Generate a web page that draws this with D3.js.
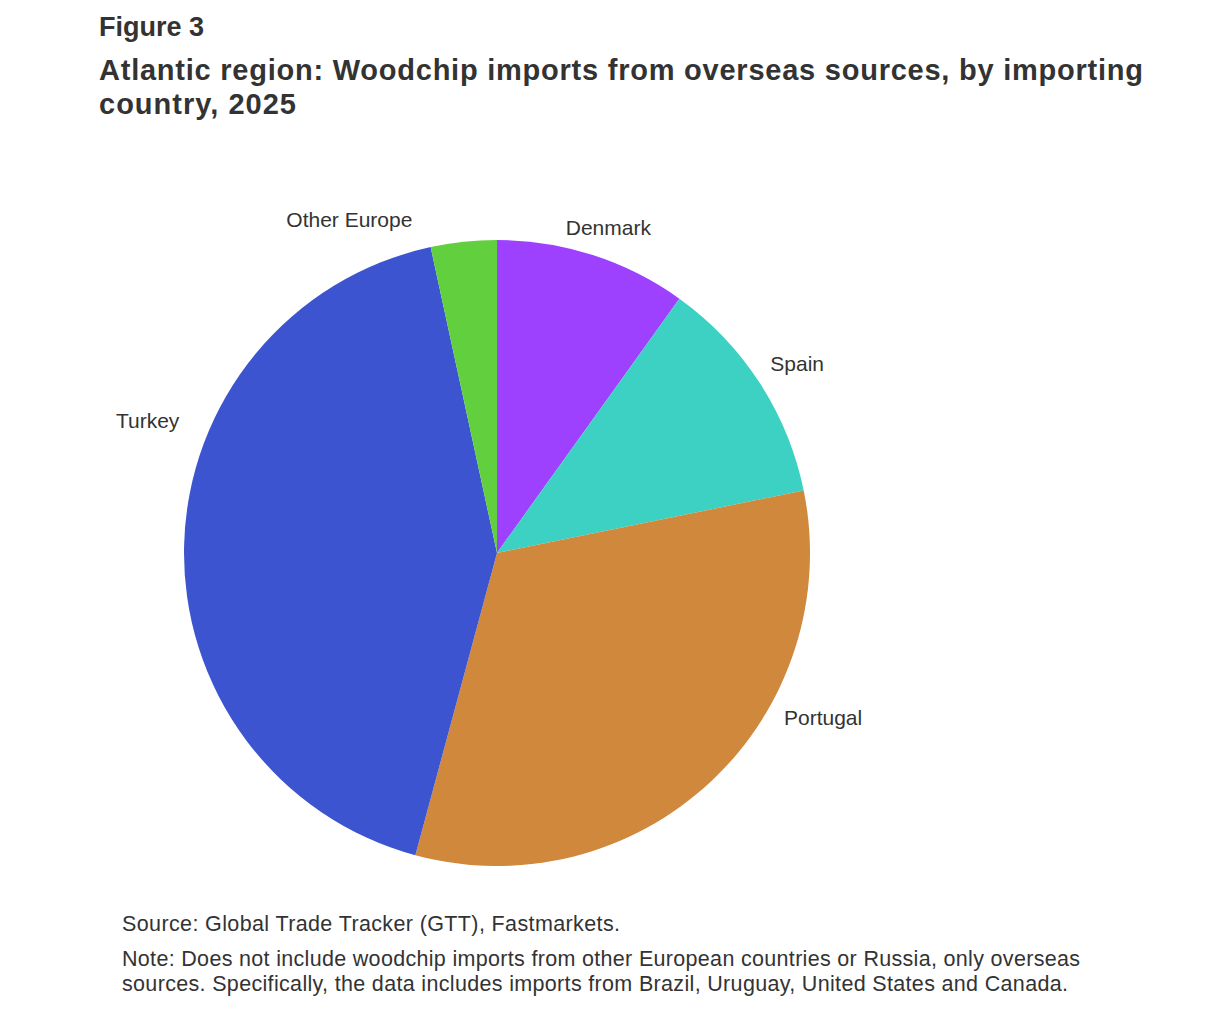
<!DOCTYPE html>
<html><head><meta charset="utf-8">
<script src="https://cdn.jsdelivr.net/npm/d3@7"></script>
<style>body{margin:0;background:#fff;font-family:"Liberation Sans",Arial,sans-serif;color:#333}</style>
</head><body>
<svg id="chart" width="1212" height="1020"></svg>
<script>
const categories = ['Denmark', 'Spain', 'Portugal', 'Turkey', 'Other Europe']
const values = [9.9, 11.9, 32.4, 42.4, 3.4]
const colors = ['#9d41ff', '#3dd1c4', '#cf883c', '#3c54cf', '#62d03e']
// where each label sits around the pie (degrees clockwise from top, distance)
const labelAngle = [19, 58, 117, 290.5, 336]
const labelDist = [342, 354, 366, 373, 363]

const svg = d3.select('#chart')
const txt = (x, y, size, s, bold) => svg.append('text').attr('x', x).attr('y', y)
  .attr('font-size', size).attr('font-weight', bold ? 'bold' : 'normal').attr('fill', '#333').text(s)
txt(99, 36, 27, 'Figure 3', true)
txt(99, 80, 29, 'Atlantic region: Woodchip imports from overseas sources, by importing', true).attr('textLength', 1044)
txt(99, 114, 29, 'country, 2025', true).attr('textLength', 197)

const cx = 497, cy = 553, r = 313
const g = svg.append('g').attr('transform', `translate(${cx},${cy})`)
const pie = d3.pie().sort(null).value(d => d.v)
const arcs = pie(categories.map((c, i) => ({ c, v: values[i], col: colors[i], i })))
const arc = d3.arc().innerRadius(0).outerRadius(r)

g.selectAll('path').data(arcs).enter().append('path')
  .attr('d', arc).attr('fill', d => d.data.col)

g.selectAll('.lbl').data(arcs).enter().append('text')
  .attr('class', 'lbl')
  .attr('font-size', 21).attr('fill', '#333')
  .attr('dominant-baseline', 'middle')
  .attr('text-anchor', 'middle')
  .attr('x', d => Math.sin(labelAngle[d.data.i] * Math.PI / 180) * labelDist[d.data.i])
  .attr('y', d => -Math.cos(labelAngle[d.data.i] * Math.PI / 180) * labelDist[d.data.i])
  .text(d => d.data.c)

txt(122, 931, 21.5, 'Source: Global Trade Tracker (GTT), Fastmarkets.').attr('textLength', 498)
txt(122, 966, 21.5, 'Note: Does not include woodchip imports from other European countries or Russia, only overseas').attr('textLength', 958)
txt(122, 991, 21.5, 'sources. Specifically, the data includes imports from Brazil, Uruguay, United States and Canada.').attr('textLength', 946)
</script>
</body></html>
